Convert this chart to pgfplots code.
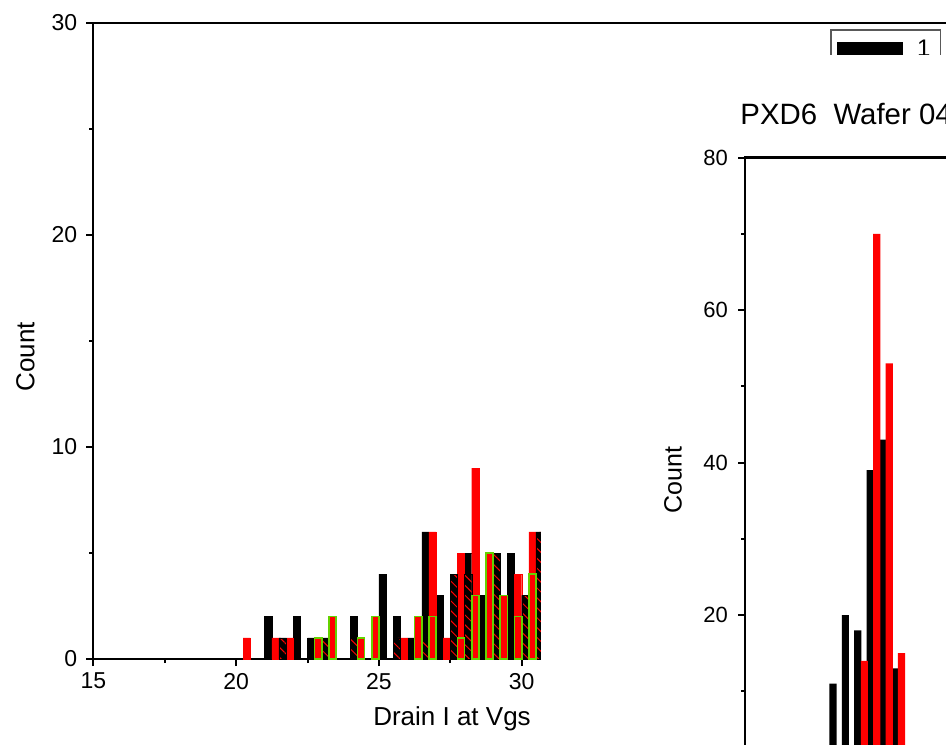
\documentclass[border=0pt]{standalone}
\usepackage{fontspec}
\setmainfont{Liberation Sans}
\usepackage{pgfplots}
\pgfplotsset{compat=1.18}
\usetikzlibrary{patterns.meta}
\definecolor{barlime}{RGB}{100,210,0}
\definecolor{hatchlime}{RGB}{165,215,40}

% Drain-current histograms (bins of 0.5, black series left half, red series right half)
\pgfplotstableread{
x     n
21.125 2
22.125 2
22.625 1
24.125 2
25.125 4
25.625 2
26.125 1
26.625 6
27.125 3
28.125 5
28.625 3
29.625 5
}\seriesA
\pgfplotstableread{
x     n
21.625 1
23.125 1
24.125 1
25.625 1
26.625 1
27.625 4
28.125 4
29.125 5
30.125 3
30.625 6
}\seriesC
\pgfplotstableread{
x     n
20.375 1
21.375 1
21.875 1
25.875 1
26.875 6
27.375 1
27.875 5
28.375 9
29.875 4
30.375 6
}\seriesB
\pgfplotstableread{
x     n
22.875 1
23.375 2
24.375 1
24.875 2
26.375 2
26.875 2
27.875 1
28.375 3
28.875 5
29.375 3
29.875 2
30.375 4
}\seriesD

\begin{document}
\begin{tikzpicture}
\useasboundingbox (0,0) rectangle (473pt,372pt);
\clip (0,0) rectangle (473pt,372pt);

% main histogram
\begin{axis}[
  at={(46.65pt,42.5pt)}, anchor=south west,
  scale only axis, width=471.25pt, height=318pt,
  xmin=15, xmax=48, ymin=0, ymax=30,
  axis line style={line width=1.2pt},
  xtick={15,20,25,30}, minor xtick={17.5,22.5,27.5},
  ytick={0,10,20,30}, minor ytick={5,15,25},
  tick align=outside, xtick pos=bottom, ytick pos=left,
  major tick length=3.5pt, minor tick length=2pt,
  every tick/.style={line width=1pt, black},
  ticklabel style={font=\fontsize{11.5}{13}\selectfont},
  yticklabel style={xshift=-1pt},
  /pgf/number format/assume math mode=true,
  xlabel={Drain I at Vgs},
  xlabel style={at={(rel axis cs:0.3806,0)}, anchor=base, yshift=-33pt, inner sep=0pt},
  ylabel={Count},
  ylabel style={at={(rel axis cs:0,0.475)}, anchor=center, yshift=34pt},
  label style={font=\fontsize{13}{15}\selectfont},
  legend style={at={(rel axis cs:0.7816,0.990)}, anchor=north west,
    draw=black!65, line width=0.8pt, font=\fontsize{12}{14}\selectfont,
    inner xsep=3pt, inner ysep=3pt,
    /tikz/every odd column/.append style={column sep=5.5pt}},
  legend cell align=left,
  legend image code/.code={\draw[#1] (0pt,-3.75pt) rectangle (32.5pt,3.75pt);},
]
\addplot[ybar, bar width=0.25, bar shift=0pt, fill=black, draw=black, line width=0.2pt]
  table[x=x, y=n] {\seriesA};
\addlegendentry{1}
\addplot[ybar, bar width=0.25, bar shift=0pt, fill=red, draw=red, line width=0.2pt,
  forget plot]
  table[x=x, y=n] {\seriesB};
\addplot[ybar, bar width=0.25, bar shift=0pt, fill=black, draw=black, line width=0.2pt,
  postaction={pattern={Lines[angle=-45,distance=3.5pt,line width=0.5pt]}, pattern color=red},
  forget plot]
  table[x=x, y=n] {\seriesC};
\addplot[ybar, bar width=0.25, bar shift=0pt, fill=red, draw=none,
  postaction={pattern={Lines[angle=-45,distance=3.5pt,line width=0.5pt]}, pattern color=hatchlime},
  postaction={draw=barlime, line width=0.8pt}, forget plot]
  table[x=x, y=n] {\seriesD};
\end{axis}

% inset layer background
\fill[white] (270.5pt,-20pt) rectangle (520pt,344.5pt);

% inset histogram
\begin{axis}[
  at={(372.5pt,-11.75pt)}, anchor=south west,
  scale only axis, width=197.5pt, height=305pt,
  xmin=-6.363, xmax=25.5, ymin=0, ymax=80,
  axis line style={line width=1.2pt},
  xtick=\empty,
  ytick={20,40,60,80}, minor ytick={10,30,50,70},
  tick align=outside, ytick pos=left,
  major tick length=3.5pt, minor tick length=2pt,
  every tick/.style={line width=1pt, black},
  yticklabel style={font=\fontsize{11}{13}\selectfont, xshift=-1.5pt},
  /pgf/number format/assume math mode=true,
  ylabel={Count},
  ylabel style={at={(rel axis cs:0,0.4713)}, anchor=center, yshift=36pt,
    font=\fontsize{12.5}{15}\selectfont},
  title={PXD6\ \ Wafer 04},
  title style={at={(rel axis cs:0,1)}, anchor=base west, xshift=-2.5pt, yshift=10.75pt,
    inner sep=0pt, font=\fontsize{14.7}{17}\selectfont},
]
\addplot[ybar, bar width=0.58, bar shift=0pt, fill=black, draw=none]
  coordinates {(0.734,11) (1.734,20) (2.734,18) (3.734,39) (4.734,43) (5.734,13)};
\addplot[ybar, bar width=0.58, bar shift=0pt, fill=red, draw=none]
  coordinates {(3.266,14) (4.266,70) (5.266,53) (6.266,15)};
\end{axis}
\end{tikzpicture}
\end{document}
